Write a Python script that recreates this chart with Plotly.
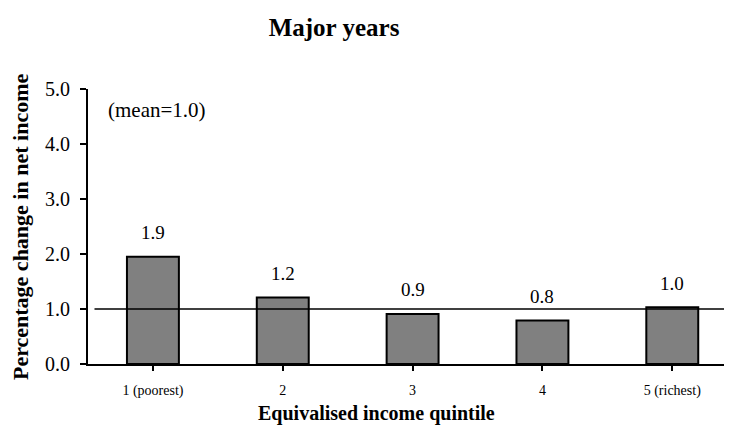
import plotly.graph_objects as go

categories = ["1 (poorest)", "2", "3", "4", "5 (richest)"]
values = [1.95, 1.21, 0.91, 0.79, 1.03]
value_labels = ["1.9", "1.2", "0.9", "0.8", "1.0"]
mean_value = 1.0
mean_label = "(mean=1.0)"
y_ticks = [0, 1, 2, 3, 4, 5]
y_ticklabels = ["0.0", "1.0", "2.0", "3.0", "4.0", "5.0"]
title_text = "Major years"
x_title = "Equivalised income quintile"
y_title = "Percentage change in net income"

FONT = "Times New Roman, Liberation Serif, serif"
OFF = 8  # page body margin offset

L, R, T, B = 87.5 - OFF, 732 - OFF, 89 - OFF, 364 - OFF
W, H = 732, 434
PW, PH = R - L, B - T

fig = go.Figure()
fig.add_trace(go.Bar(
    x=list(range(len(categories))), y=values, width=0.4,
    marker=dict(color="#808080", line=dict(color="black", width=2)),
    showlegend=False, hoverinfo="skip",
))

# mean line
fig.add_shape(type="line", xref="x", yref="y", x0=-0.45, x1=4.6,
              y0=mean_value, y1=mean_value, line=dict(color="black", width=1.5))

for i, (v, lab) in enumerate(zip(values, value_labels)):
    fig.add_annotation(x=i, y=v, text=lab, showarrow=False, yanchor="middle",
                       yshift=24, font=dict(family=FONT, size=19, color="black"))

fig.add_annotation(x=0.03, y=4.62, xref="x", yref="y", text=mean_label, showarrow=False,
                   xanchor="center", yanchor="middle",
                   font=dict(family=FONT, size=21, color="black"))

# axis titles as annotations
fig.add_annotation(xref="paper", yref="paper", x=(376 - OFF - L) / PW, y=-(413 - 364) / PH,
                   text="<b>" + x_title + "</b>", showarrow=False,
                   xanchor="center", yanchor="middle",
                   font=dict(family=FONT, size=20, color="black"))
fig.add_annotation(xref="paper", yref="paper", x=(20 - OFF - L) / PW, y=0.5,
                   text="<b>" + y_title + "</b>", showarrow=False, textangle=-90,
                   xanchor="center", yanchor="middle",
                   font=dict(family=FONT, size=22, color="black"))

fig.update_layout(
    width=W, height=H,
    margin=dict(l=L, r=W - R, t=T, b=H - B, autoexpand=False),
    paper_bgcolor="white", plot_bgcolor="white",
    title=dict(text="<b>" + title_text + "</b>", xref="container", yref="container",
               x=(334 - OFF) / W, y=1 - (27 - OFF) / H, xanchor="center", yanchor="middle",
               font=dict(family=FONT, size=25, color="black")),
    font=dict(family=FONT, color="black"),
)
fig.update_xaxes(
    range=[-0.5, 4.46], tickmode="array", tickvals=list(range(len(categories))),
    ticktext=categories, showline=True, linecolor="black", linewidth=2,
    ticks="outside", ticklen=5, tickwidth=2, tickcolor="black",
    showgrid=False, zeroline=False, ticklabelstandoff=7, automargin=False,
    tickfont=dict(family=FONT, size=14, color="black"),
)
fig.update_yaxes(
    range=[0, 5], tickmode="array", tickvals=y_ticks, ticktext=y_ticklabels,
    showline=True, linecolor="black", linewidth=2,
    ticks="outside", ticklen=6, tickwidth=2, tickcolor="black",
    showgrid=False, zeroline=False, ticklabelstandoff=6, automargin=False,
    tickfont=dict(family=FONT, size=20, color="black"),
)

fig.write_html("out.html")
